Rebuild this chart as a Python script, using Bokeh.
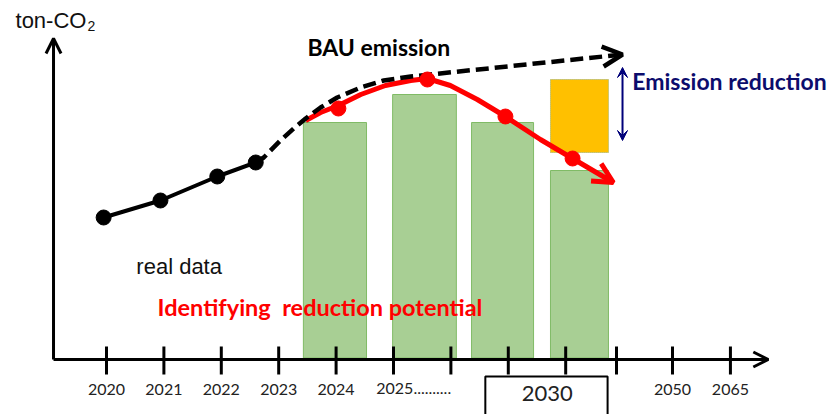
from bokeh.plotting import figure
from bokeh.models import Range1d, Arrow, OpenHead, VeeHead
from bokeh.core.properties import value
from bokeh.embed import file_html
from bokeh.resources import INLINE

# ---- timeline (x in tick-slot units, y in emission units above the time axis) ----
tick_pos = [0, 1, 2, 3, 4, 5, 6, 7, 8, 8.885, 9.861, 10.87]
year_labels = ["2020", "2021", "2022", "2023", "2024", "2050", "2065"]
year_label_pos = [0, 1, 2, 3, 4, 9.861, 10.87]

# measured emissions
real_x = [-0.05, 0.94, 1.93, 2.60]
real_y = [14.2, 15.9, 18.3, 19.7]

# business-as-usual projection
bau_x = [2.60, 2.74, 3.03, 3.26, 3.47, 3.73, 4.02, 4.43, 4.83, 5.30, 8.99]
bau_y = [19.7, 20.2, 21.9, 23.1, 24.1, 25.2, 26.2, 27.2, 27.9, 28.3, 30.5]

# reduced pathway
red_x = [3.47, 3.73, 4.04, 4.43, 4.86, 5.30, 5.59, 5.99, 6.46, 6.95, 7.56, 8.12, 8.83]
red_y = [23.9, 24.7, 25.4, 26.5, 27.4, 27.9, 28.1, 27.4, 26.0, 24.3, 22.0, 20.1, 17.7]
red_pt_x = [4.04, 5.59, 6.95, 8.12]
red_pt_y = [25.1, 28.0, 24.3, 20.1]

# reduction-potential bars
bar_x = [3.98, 5.54, 6.90, 8.24]
bar_w = [1.10, 1.11, 1.08, 1.01]
bar_top = [23.7, 26.5, 23.7, 18.9]

# emission reduction gap at the target year
gap_top = 28.0
gap_bottom = 20.7

p = figure(width=836, height=414,
           x_range=Range1d(-1.8467, 12.718), y_range=Range1d(-5.5, 35.9),
           x_axis_location=None, y_axis_location=None,
           output_backend="svg", toolbar_location=None, min_border=0)
p.grid.visible = False
p.outline_line_color = None
p.background_fill_color = "white"

# bars
p.vbar(x=bar_x, width=bar_w, top=bar_top, bottom=0.15,
       fill_color="#a8cf94", line_color="#80bb66", line_width=1)

# reduction gap box
p.quad(left=[bar_x[3] - bar_w[3] / 2], right=[bar_x[3] + bar_w[3] / 2],
       top=[gap_top], bottom=[gap_bottom],
       fill_color="#ffc000", line_color="#9aab5c", line_width=1, line_dash="1 1")

# reduced pathway with arrow
p.line(red_x, red_y, line_color="#ff0000", line_width=5, line_join="round")
p.add_layout(Arrow(end=OpenHead(size=20, line_color="#ff0000", line_width=5),
                   x_start=red_x[-2], y_start=red_y[-2], x_end=red_x[-1], y_end=red_y[-1],
                   line_alpha=0))

# BAU dashed projection with arrow
p.line(bau_x, bau_y, line_color="black", line_width=4.5, line_dash="13 6")
p.add_layout(Arrow(end=OpenHead(size=20, line_color="black", line_width=4.5),
                   x_start=bau_x[-2], y_start=bau_y[-2], x_end=bau_x[-1], y_end=bau_y[-1],
                   line_alpha=0))

p.scatter(red_pt_x, red_pt_y, size=15, color="#ff0000")

# measured data
p.line(real_x, real_y, line_color="black", line_width=4)
p.scatter(real_x, real_y, size=15, color="black")

# emission reduction double arrow
navy = "#00007a"
p.add_layout(Arrow(start=VeeHead(size=10, fill_color=navy, line_color=navy, line_width=1),
                   end=VeeHead(size=10, fill_color=navy, line_color=navy, line_width=1),
                   x_start=8.99, y_start=gap_bottom + 1.2, x_end=8.99, y_end=gap_top + 1.2,
                   line_color=navy, line_width=2))

# axes
axis_x0 = -0.923
p.add_layout(Arrow(end=OpenHead(size=15, line_color="black", line_width=3),
                   x_start=axis_x0, y_start=0, x_end=axis_x0, y_end=32.1,
                   line_color="black", line_width=3))
p.add_layout(Arrow(end=OpenHead(size=15, line_color="black", line_width=3),
                   x_start=axis_x0, y_start=0, x_end=11.53, y_end=0,
                   line_color="black", line_width=3))
p.segment(x0=tick_pos, y0=[-1.5] * len(tick_pos), x1=tick_pos, y1=[1.3] * len(tick_pos),
          line_color="black", line_width=3)

label_font = value("Lato")
p.text(x=year_label_pos, y=[-2.98] * len(year_label_pos), text=year_labels,
       text_align="center", text_baseline="alphabetic", text_font=label_font,
       text_font_size="16px", text_color="#222222")
p.text(x=[4.70], y=[-2.88], text=["2025.........."], text_align="left",
       text_baseline="alphabetic", text_font=label_font, text_font_size="16px",
       text_color="#222222")

# target year box
p.quad(left=[6.60], right=[8.73], top=[-1.7], bottom=[-6.5],
       fill_color="white", line_color="black", line_width=2)
p.text(x=[7.68], y=[-3.4], text=["2030"], text_align="center", text_baseline="alphabetic",
       text_font=label_font, text_font_size="22px", text_color="#222222")

# annotations
p.text(x=[3.50], y=[31.24], text=["BAU emission"], text_baseline="alphabetic",
       text_font=label_font, text_font_style="bold", text_font_size="23px",
       text_color="black")
p.text(x=[9.16], y=[27.84], text=["Emission reduction"], text_baseline="alphabetic",
       text_font=label_font, text_font_style="bold", text_font_size="23px",
       text_color="#0c0c6c")
p.text(x=[0.52], y=[9.3], text=["real data"], text_baseline="alphabetic",
       text_font=value("Liberation Sans"), text_font_size="22px", text_color="#111111")
p.text(x=[0.89], y=[5.26], text=["Identifying\u00a0 reduction potential"],
       text_baseline="alphabetic", text_font=label_font, text_font_style="bold",
       text_font_size="23.5px", text_color="#ff0000")
p.text(x=[-1.585], y=[33.9], text=["ton-CO"], text_baseline="alphabetic",
       text_font=value("Liberation Sans"), text_font_size="22px", text_color="#111111")
p.text(x=[-0.331], y=[33.35], text=["2"], text_baseline="alphabetic",
       text_font=value("Liberation Sans"), text_font_size="14px", text_color="#111111")

open("out.html", "w").write(file_html(p, INLINE))
